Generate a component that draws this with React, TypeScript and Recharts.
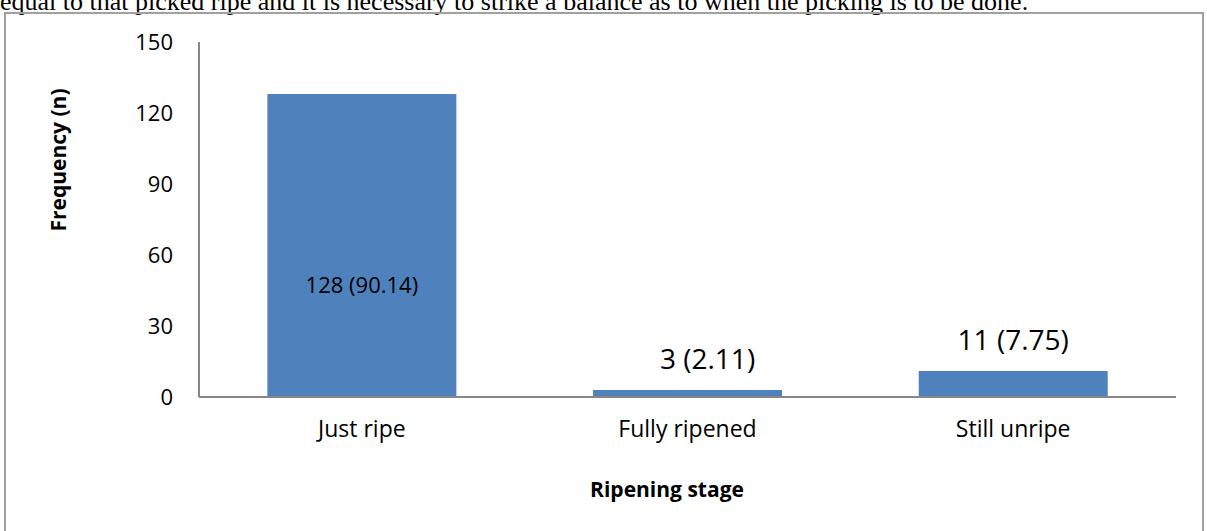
import { Bar, BarChart, LabelList, XAxis, YAxis } from "recharts";

// Ripening stage of picked fruit
const stages = ["Just ripe", "Fully ripened", "Still unripe"];
const counts = [128, 3, 11];
const countLabels = ["128 (90.14)", "3 (2.11)", "11 (7.75)"];
const yTicks = [0, 30, 60, 90, 120, 150];

const data = stages.map((stage, i) => ({
  stage,
  count: counts[i],
  label: countLabels[i],
}));

const FONT = "'Open Sans', sans-serif";

function BarValueLabel(props: any) {
  const { x, y, width, height, index, value } = props;
  const cx = x + width / 2;
  if (index === 0) {
    // big bar: label sits inside, below the middle
    return (
      <text x={cx} y={y + height / 2 + 47} textAnchor="middle" fontSize={22} fill="#000" fontFamily={FONT}>
        {value}
      </text>
    );
  }
  const dx = index === 1 ? 20 : 0;
  return (
    <text x={cx + dx} y={y - 21} textAnchor="middle" fontSize={28} fill="#000" fontFamily={FONT}>
      {value}
    </text>
  );
}

export default function App() {
  return (
    <div style={{ position: "absolute", left: 0, top: 0, width: 1207, height: 531, overflow: "hidden", background: "#fff" }}>
      <div
        style={{
          position: "absolute",
          left: 0,
          top: -13,
          fontFamily: "'Liberation Serif', 'Times New Roman', serif",
          fontSize: 26,
          lineHeight: "30px",
          whiteSpace: "nowrap",
          color: "#000",
        }}
      >
        equal to that picked ripe and it is necessary to strike a balance as to when the picking is to be done.
      </div>
      <div
        style={{
          position: "absolute",
          left: 4,
          top: 12,
          width: 1200,
          height: 540,
          border: "2px solid #a0a0a0",
          boxSizing: "border-box",
        }}
      />
      <div style={{ position: "absolute", left: 0, top: 0 }}>
        <BarChart width={1207} height={531} data={data} margin={{ top: 42, right: 31, left: 0, bottom: 104 }} barCategoryGap="21%">
          <XAxis
            dataKey="stage"
            axisLine={{ stroke: "#878787", strokeWidth: 2 }}
            tickLine={false}
            height={30}
            tick={{ fontSize: 23, fill: "#000", fontFamily: FONT }}
            dy={16}
          />
          <YAxis
            width={199}
            domain={[0, 150]}
            ticks={yTicks}
            axisLine={{ stroke: "#878787", strokeWidth: 2 }}
            tickLine={false}
            tick={{ fontSize: 22, fill: "#000", fontFamily: FONT }}
            dx={-18}
          />
          <Bar dataKey="count" fill="#4f81bd" isAnimationActive={false}>
            <LabelList dataKey="label" content={<BarValueLabel />} />
          </Bar>
          <text x={58} y={160} transform="rotate(-90 58 160)" textAnchor="middle" dominantBaseline="central" fontSize={21} fontWeight="bold" fontFamily={FONT}>
            Frequency (n)
          </text>
          <text x={667} y={497} textAnchor="middle" fontSize={21} fontWeight="bold" fontFamily={FONT}>
            Ripening stage
          </text>
        </BarChart>
      </div>
    </div>
  );
}
